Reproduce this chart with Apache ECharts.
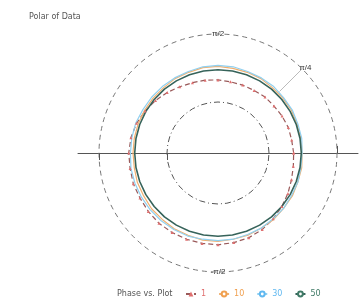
<!DOCTYPE html>
<html>
<head>
<meta charset="utf-8">
<script src="https://cdn.jsdelivr.net/npm/echarts@6/dist/echarts.min.js"></script>
<style>
  html, body { margin: 0; padding: 0; background: #fff; }
  #main { width: 360px; height: 303px; }
</style>
</head>
<body>
<div id="main"></div>
<script>
// angles in degrees, one point every 10
var angles = [0, 10, 20, 30, 40, 50, 60, 70, 80, 90, 100, 110, 120, 130, 140, 150, 160, 170, 180,
              190, 200, 210, 220, 230, 240, 250, 260, 270, 280, 290, 300, 310, 320, 330, 340, 350, 360];
var redR    = [0.89, 0.88, 0.88, 0.87, 0.86, 0.86, 0.85, 0.85, 0.85, 0.86, 0.87, 0.88, 0.90, 0.93, 0.96, 0.99, 1.02, 1.04, 1.05,
               1.05, 1.06, 1.06, 1.07, 1.08, 1.08, 1.08, 1.08, 1.08, 1.07, 1.06, 1.04, 1.01, 0.98, 0.95, 0.92, 0.90, 0.89];
var orangeR = [0.99, 0.99, 0.99, 1.00, 1.00, 1.00, 1.01, 1.01, 1.01, 1.02, 1.02, 1.01, 1.01, 1.00, 1.00, 1.00, 1.00, 1.00, 1.00,
               1.00, 1.01, 1.01, 1.02, 1.02, 1.03, 1.03, 1.04, 1.04, 1.03, 1.03, 1.02, 1.02, 1.01, 1.01, 1.00, 1.00, 0.99];
var blueR   = [0.99, 1.00, 1.00, 1.01, 1.01, 1.02, 1.02, 1.02, 1.03, 1.03, 1.03, 1.02, 1.02, 1.02, 1.02, 1.02, 1.03, 1.03, 1.03,
               1.04, 1.04, 1.04, 1.04, 1.04, 1.04, 1.04, 1.03, 1.03, 1.03, 1.02, 1.02, 1.01, 1.01, 1.00, 1.00, 0.99, 0.99];
var greenR  = [0.98, 0.98, 0.98, 0.98, 0.98, 0.98, 0.98, 0.98, 0.98, 0.98, 0.98, 0.98, 0.98, 0.98, 0.98, 0.98, 0.98, 0.98, 0.98,
               0.98, 0.98, 0.98, 0.98, 0.98, 0.98, 0.98, 0.98, 0.98, 0.98, 0.98, 0.98, 0.98, 0.98, 0.98, 0.98, 0.98, 0.98];
var innerR  = [0.60, 0.60, 0.60, 0.60, 0.60, 0.60, 0.60, 0.60, 0.60, 0.60, 0.60, 0.60, 0.60, 0.60, 0.60, 0.60, 0.60, 0.60, 0.60,
               0.60, 0.60, 0.60, 0.60, 0.60, 0.60, 0.60, 0.60, 0.60, 0.60, 0.60, 0.60, 0.60, 0.60, 0.60, 0.60, 0.60, 0.60];
var names = ['1', '10', '30', '50'];
var colors = ['#e07070', '#f0a050', '#60b8f0', '#3f7a66'];
var angleLabels = { 45: 'π/4', 90: 'π/2', 270: '-π/2' };

function pairs(r) {
    var out = [];
    for (var i = 0; i < angles.length; i++) out.push([r[i], angles[i]]);
    return out;
}

var chart = echarts.init(document.getElementById('main'));
var center = [218, 153];
var lineMax = 1.4 * 140 / 119;

chart.setOption({
    animation: false,
    title: [{
        text: 'Polar of Data',
        left: 24, top: 8,
        textStyle: { fontSize: 8, fontWeight: 'normal', color: '#555', fontFamily: 'DejaVu Sans' }
    }, {
        text: 'Phase vs. Plot',
        left: 112, top: 285,
        textStyle: { fontSize: 8, fontWeight: 'normal', color: '#555', fontFamily: 'DejaVu Sans' }
    }],
    legend: {
        data: names.map(function (n, i) {
            return { name: n, textStyle: { color: colors[i] } };
        }),
        left: 180, top: 285,
        itemWidth: 10, itemHeight: 6, itemGap: 12,
        textStyle: { fontSize: 8, fontFamily: 'DejaVu Sans' }
    },
    polar: [
        { center: center, radius: 119 },
        { center: center, radius: 140 },
        { center: center, radius: 140 }
    ],
    angleAxis: [{
        polarIndex: 0, type: 'value', min: 0, max: 360, startAngle: 0, clockwise: false,
        interval: 45,
        axisLine: { lineStyle: { color: '#777', type: [5, 4], width: 1 } },
        axisTick: { show: true, inside: true, length: 32, customValues: [45], lineStyle: { color: '#bbb' } },
        axisLabel: {
            customValues: [45, 90, 270], fontSize: 8, color: '#333', margin: -4,
            formatter: function (v) { return angleLabels[v] || ''; }
        },
        splitLine: { show: false }
    }, {
        polarIndex: 1, type: 'value', min: 0, max: 360, startAngle: 0, show: false
    }, {
        polarIndex: 2, type: 'value', min: 0, max: 360, startAngle: 180, show: false
    }],
    radiusAxis: [{
        polarIndex: 0, min: 0, max: 1.4, show: false
    }, {
        polarIndex: 1, min: 0, max: lineMax,
        axisLine: { lineStyle: { color: '#555', width: 1 } },
        axisTick: { customValues: [1.4], length: 7, lineStyle: { color: '#555' } },
        axisLabel: { show: false }, splitLine: { show: false }
    }, {
        polarIndex: 2, min: 0, max: lineMax,
        axisLine: { lineStyle: { color: '#555', width: 1 } },
        axisTick: { customValues: [0.6, 1.4], length: 7, lineStyle: { color: '#555' } },
        axisLabel: { show: false }, splitLine: { show: false }
    }],
    series: [{
        name: 'inner', type: 'line', coordinateSystem: 'polar', polarIndex: 0,
        data: pairs(innerR), showSymbol: false, silent: true,
        lineStyle: { color: '#555', width: 1, type: [6, 3, 1, 3] }
    }, {
        name: names[0], type: 'line', coordinateSystem: 'polar', polarIndex: 0,
        data: pairs(redR), symbol: 'triangle', symbolSize: 3,
        itemStyle: { color: colors[0] },
        lineStyle: { color: '#9a5a5a', width: 1.2, type: [5, 3] }
    }, {
        name: names[1], type: 'line', coordinateSystem: 'polar', polarIndex: 0,
        data: pairs(orangeR), showSymbol: false,
        itemStyle: { color: colors[1] },
        lineStyle: { color: '#f0b070', width: 1.2 }
    }, {
        name: names[2], type: 'line', coordinateSystem: 'polar', polarIndex: 0,
        data: pairs(blueR), showSymbol: false,
        itemStyle: { color: colors[2] },
        lineStyle: { color: '#90d0f0', width: 1.2 }
    }, {
        name: names[3], type: 'line', coordinateSystem: 'polar', polarIndex: 0,
        data: pairs(greenR), showSymbol: false,
        itemStyle: { color: colors[3] },
        lineStyle: { color: '#36635a', width: 1.6 }
    }]
});
</script>
</body>
</html>
